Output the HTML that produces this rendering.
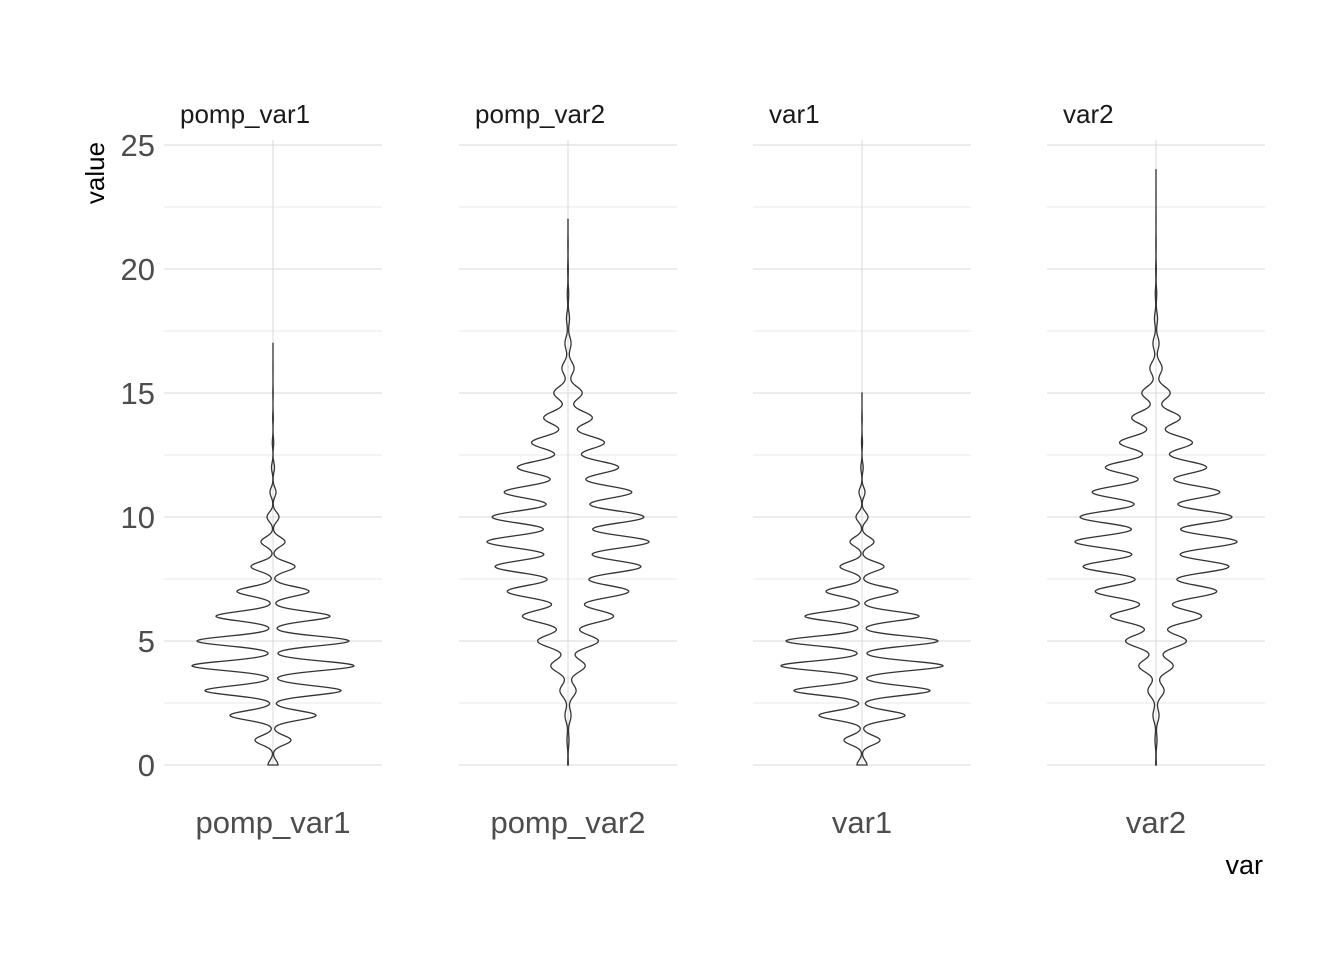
<!DOCTYPE html>
<html><head><meta charset="utf-8">
<style>
body{margin:0;background:#fff;}
svg text{font-family:"Liberation Sans",sans-serif;}
</style></head>
<body>
<svg id="chart" width="1344" height="960" xmlns="http://www.w3.org/2000/svg">
<rect width="1344" height="960" fill="#fff"/>
<g id="grid"></g>
<g id="violins"></g>
<g id="labels"></g>
<text transform="translate(104,173) rotate(-90)" text-anchor="middle" font-size="26" fill="#000">value</text>
<text x="1263" y="874" text-anchor="end" font-size="27" fill="#000">var</text>
</svg>
<script>
const facets = ["pomp_var1","pomp_var2","var1","var2"];
const valueLevels = [0,1,2,3,4,5,6,7,8,9,10,11,12,13,14,15,16,17,18,19,20,21,22,23,24];
const countsPompVar1 = [5,18,43,68,81,76,57,36,22,12,6,3,1.5,0.7,0.3,0.15,0.05,0.02];
const countsPompVar2 = [0.3,1,3,8,17,30,45,60,72,80,75,63,50,36,24,14,6,3,1.5,0.7,0.3,0.15,0.05];
const countsVar1 = [5,18,43,68,81,76,57,36,22,12,6,3,1.2,0.5,0.2,0.05];
const countsVar2 = [0.3,1,3,8,17,30,45,60,72,80,75,63,50,36,24,14,6,3,1.5,0.7,0.3,0.15,0.06,0.03,0.01];
const bandwidths = [0.19,0.26,0.19,0.26];
const yTicks = [0,5,10,15,20,25];
const allCounts = [countsPompVar1,countsPompVar2,countsVar1,countsVar2];

const NS="http://www.w3.org/2000/svg";
const panelLeft=[164,459,753,1047], panelW=218;
const yScale=v=>765-v*24.8;
const grid=document.getElementById('grid'), vg=document.getElementById('violins'), lg=document.getElementById('labels');
function mk(tag,attrs,parent){const e=document.createElementNS(NS,tag);for(const k in attrs)e.setAttribute(k,attrs[k]);parent.appendChild(e);return e;}
function dens(counts,y,bw){let s=0;for(let i=0;i<counts.length;i++){const d=(y-valueLevels[i])/bw;s+=counts[i]*Math.exp(-0.5*d*d)/bw;}return s;}
const maxHalf=81;
facets.forEach((f,fi)=>{
  const L=panelLeft[fi], cx=L+panelW/2;
  for(let t=0;t<yTicks.length;t++){
    const v=yTicks[t];
    const l=mk('line',{x1:L,x2:L+panelW,y1:yScale(v),y2:yScale(v),stroke:'#d9d9d9','stroke-width':1},grid);
    
    
    if(t<yTicks.length-1){
      const m=mk('line',{x1:L,x2:L+panelW,y1:yScale(v+2.5),y2:yScale(v+2.5),stroke:'#e2e2e2','stroke-width':0.8},grid);
      
      
    }
  }
  const vl=mk('line',{x1:cx,x2:cx,y1:140,y2:765,stroke:'#d9d9d9','stroke-width':1},grid);
  
  
  const c=allCounts[fi], ymax=c.length-1, bw=bandwidths[fi];
  let m=0;for(let y=0;y<=ymax;y+=0.02)m=Math.max(m,dens(c,y,bw));
  const right=[],left=[];
  for(let y=0;y<=ymax+1e-9;y+=0.02){
    const w=dens(c,y,bw)/m*maxHalf;
    right.push((cx+w).toFixed(2)+','+yScale(y).toFixed(2));
    left.unshift((cx-w).toFixed(2)+','+yScale(y).toFixed(2));
  }
  const p=mk('polygon',{points:right.concat(left).join(' '),fill:'none',stroke:'#333','stroke-width':1.3},vg);
  
  
  const st=mk('text',{x:L+16,y:123,'font-size':'26',fill:'#1a1a1a'},lg);
  st.textContent=f;
  
  
  const xt=mk('text',{x:cx,y:833,'font-size':'31','text-anchor':'middle',fill:'#4d4d4d'},lg);
  xt.textContent=f;
  
  
});
yTicks.forEach(v=>{
  const t=mk('text',{x:155,y:yScale(v)+11,'font-size':'31','text-anchor':'end',fill:'#4d4d4d'},lg);
  t.textContent=v;
  
  
});
</script>
</body></html>
